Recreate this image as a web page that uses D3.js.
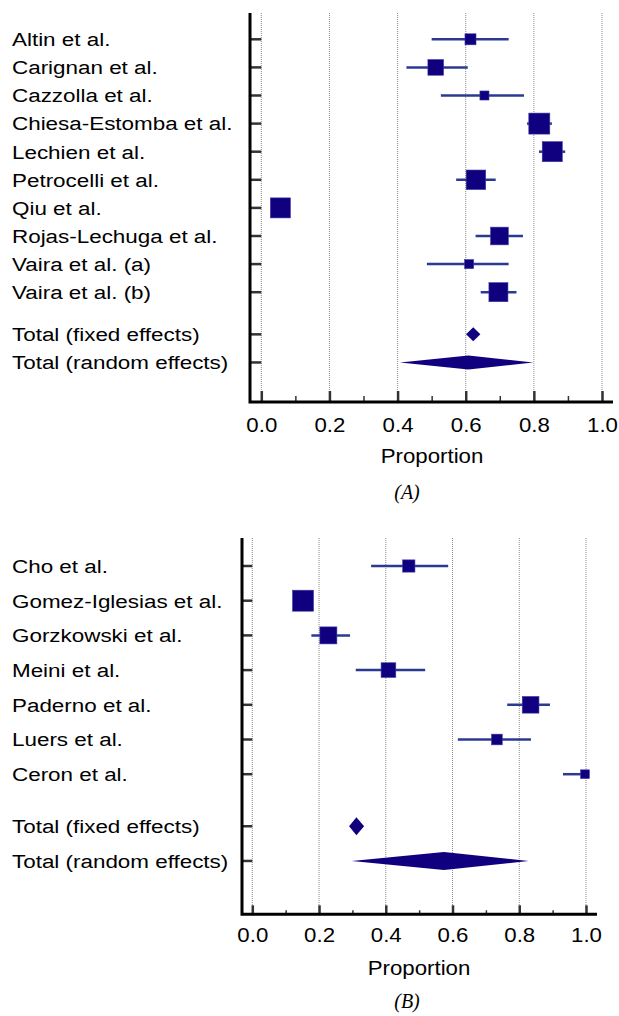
<!DOCTYPE html>
<html>
<head>
<meta charset="utf-8">
<script src="https://cdn.jsdelivr.net/npm/d3@7"></script>
<style>
  body { margin: 0; background: #fff; }
  text { font-family: "Liberation Sans", Arial, sans-serif; fill: #000; }
</style>
</head>
<body>
<svg id="chart" width="619" height="1016"></svg>
<script>
// panel A data
const studiesA = ["Altin et al.", "Carignan et al.", "Cazzolla et al.", "Chiesa-Estomba et al.",
  "Lechien et al.", "Petrocelli et al.", "Qiu et al.", "Rojas-Lechuga et al.",
  "Vaira et al. (a)", "Vaira et al. (b)"];
const propA = [0.614, 0.512, 0.655, 0.816, 0.854, 0.630, 0.056, 0.699, 0.610, 0.696];
const lowA  = [0.500, 0.426, 0.527, 0.780, 0.815, 0.572, 0.040, 0.629, 0.486, 0.644];
const highA = [0.726, 0.606, 0.771, 0.853, 0.892, 0.688, 0.074, 0.768, 0.726, 0.749];
const weightA = [4.3, 8.7, 2.9, 15.6, 14.2, 13.5, 14.2, 11.1, 2.9, 12.8];
const totalsA = [
  { label: "Total (fixed effects)", est: 0.622, low: 0.601, high: 0.643 },
  { label: "Total (random effects)", est: 0.608, low: 0.407, high: 0.798 }
];

// panel B data
const studiesB = ["Cho et al.", "Gomez-Iglesias et al.", "Gorzkowski et al.", "Meini et al.",
  "Paderno et al.", "Luers et al.", "Ceron et al."];
const propB = [0.469, 0.152, 0.228, 0.408, 0.834, 0.733, 0.997];
const lowB  = [0.356, 0.135, 0.177, 0.310, 0.764, 0.616, 0.931];
const highB = [0.587, 0.170, 0.293, 0.518, 0.892, 0.835, 1.000];
const weightB = [9.6, 28.2, 18.5, 13.8, 17.8, 7.3, 4.9];
const totalsB = [
  { label: "Total (fixed effects)", est: 0.312, low: 0.290, high: 0.335 },
  { label: "Total (random effects)", est: 0.574, low: 0.298, high: 0.828 }
];

const majorTicks = [0, 0.2, 0.4, 0.6, 0.8, 1.0];
const minorTicks = [0.1, 0.3, 0.5, 0.7, 0.9];

const svg = d3.select("#chart");

function forest(opt) {
  const g = svg.append("g");
  const x = d3.scaleLinear().domain([0, 1]).range([opt.x0, opt.x1]);
  const n = opt.studies.length;
  // rows: studies at 0..n-1, totals after a half-row gap
  const y = d3.scaleLinear().domain([0, 1]).range([opt.row0, opt.row0 + opt.step]);
  const size = d3.scaleSqrt().domain([0, d3.max(opt.weight)]).range([0, opt.maxSize]);

  // grid
  g.selectAll(".grid").data(majorTicks).join("line")
    .attr("x1", d => x(d)).attr("x2", d => x(d))
    .attr("y1", opt.top).attr("y2", opt.bottom)
    .attr("stroke", "#8a8a8a").attr("stroke-width", 1)
    .attr("stroke-dasharray", "1,1");

  // bottom axis ticks
  const ax = g.append("g").attr("transform", `translate(0,${opt.bottom})`)
    .call(d3.axisBottom(x).tickValues(majorTicks).tickFormat(d3.format(".1f"))
      .tickSizeInner(-opt.majorLen).tickSizeOuter(0).tickPadding(opt.majorLen + opt.labelPad));
  ax.select(".domain").remove();
  ax.selectAll(".tick line").attr("stroke", "#333").attr("stroke-width", 2.5);
  ax.selectAll(".tick text").attr("font-size", 21)
    .attr("transform", "scale(1.06,1)")
    .style("font-family", "'Liberation Sans', Arial, sans-serif").attr("fill", "#000");
  const axm = g.append("g").attr("transform", `translate(0,${opt.bottom})`)
    .call(d3.axisBottom(x).tickValues(minorTicks).tickFormat("")
      .tickSizeInner(-opt.minorLen).tickSizeOuter(0));
  axm.select(".domain").remove();
  axm.selectAll(".tick line").attr("stroke", "#333").attr("stroke-width", 1.5);

  const rowsY = opt.studies.map((d, i) => y(i));
  const totY = opt.totals.map((d, i) => y(n + 0.5 + i));

  // left ticks
  g.selectAll(".lt").data(rowsY.concat(totY)).join("line")
    .attr("x1", opt.axisX).attr("x2", x(0))
    .attr("y1", d => d).attr("y2", d => d)
    .attr("stroke", "#333").attr("stroke-width", 2.5);

  // axis lines
  g.append("path")
    .attr("d", `M${opt.axisX},${opt.top}V${opt.bottom}H${opt.axisRight}`)
    .attr("fill", "none").attr("stroke", "#000").attr("stroke-width", 3);

  // labels (source text is a little wide)
  g.selectAll(".lab").data(opt.studies.concat(opt.totals.map(t => t.label))).join("text")
    .attr("transform", (d, i) => `translate(12,${i < n ? rowsY[i] : totY[i - n]}) scale(1.18,1)`)
    .attr("dy", "0.36em").attr("font-size", 19).text(d => d);

  // CI lines
  g.selectAll(".ci").data(opt.studies).join("line")
    .attr("x1", (d, i) => x(opt.low[i])).attr("x2", (d, i) => x(opt.high[i]))
    .attr("y1", (d, i) => rowsY[i]).attr("y2", (d, i) => rowsY[i])
    .attr("stroke", "#2a3a92").attr("stroke-width", 2.5);

  // squares
  g.selectAll(".sq").data(opt.studies).join("rect")
    .attr("x", (d, i) => x(opt.prop[i]) - size(opt.weight[i]) / 2)
    .attr("y", (d, i) => rowsY[i] - size(opt.weight[i]) / 2)
    .attr("width", (d, i) => size(opt.weight[i]))
    .attr("height", (d, i) => size(opt.weight[i]))
    .attr("fill", "#10007f").attr("stroke", "#3a3aa0").attr("stroke-width", 0.6);

  // diamonds
  g.selectAll(".dm").data(opt.totals).join("path")
    .attr("d", (d, i) => {
      const cy = totY[i], h = opt.diamondH / 2;
      return `M${x(d.low)},${cy}L${x(d.est)},${cy - h}L${x(d.high)},${cy}L${x(d.est)},${cy + h}Z`;
    })
    .attr("fill", "#10007f");

  // axis title + caption
  g.append("text").attr("transform", `translate(${opt.titleX},${opt.titleY}) scale(1.06,1)`)
    .attr("dy", "0.36em").attr("text-anchor", "middle").attr("font-size", 21).text("Proportion");
  g.append("text").attr("x", opt.capX).attr("y", opt.capY).attr("dy", "0.36em")
    .attr("text-anchor", "middle").attr("font-size", 20)
    .style("font-family", "'Liberation Serif', 'Times New Roman', serif")
    .style("font-style", "italic").text(opt.caption);
}

forest({
  studies: studiesA, prop: propA, low: lowA, high: highA, weight: weightA, totals: totalsA,
  axisX: 250, x0: 261.3, x1: 602, axisRight: 613, top: 13, bottom: 402,
  row0: 39.3, step: 28.1, maxSize: 21, diamondH: 14,
  majorLen: 11, minorLen: 6, labelPad: 4,
  titleX: 432, titleY: 455, capX: 407, capY: 492, caption: "(A)"
});

forest({
  studies: studiesB, prop: propB, low: lowB, high: highB, weight: weightB, totals: totalsB,
  axisX: 242, x0: 252.3, x1: 586, axisRight: 597, top: 538, bottom: 914.3,
  row0: 566, step: 34.7, maxSize: 21, diamondH: 18,
  majorLen: 9, minorLen: 4, labelPad: 4,
  titleX: 419, titleY: 967, capX: 407, capY: 1001, caption: "(B)"
});
</script>
</body>
</html>
